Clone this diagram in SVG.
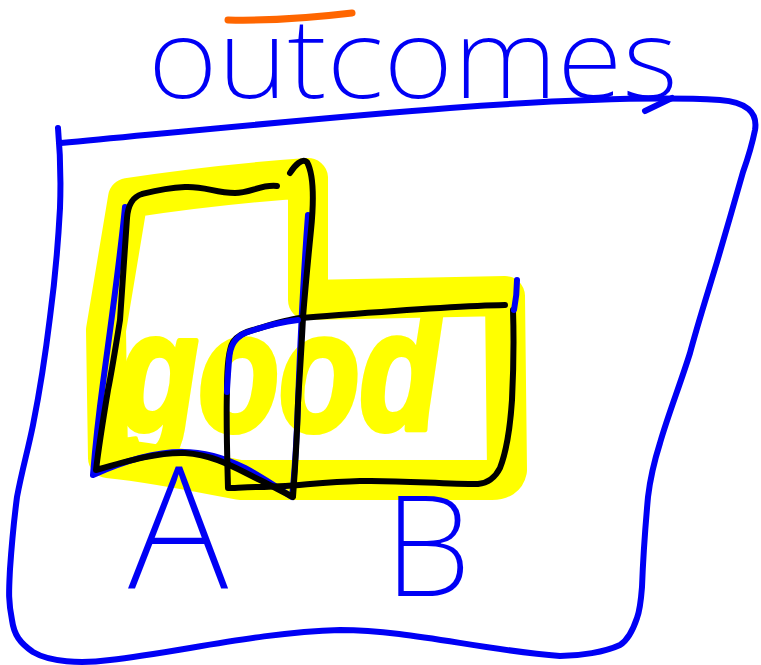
<svg xmlns="http://www.w3.org/2000/svg" width="761" height="665" viewBox="0 0 761 665">
  <style>
    .ink-blue { fill: none; stroke: #0000f5; stroke-width: 6; stroke-linecap: round; stroke-linejoin: round; }
    .ink-black { fill: none; stroke: #000; stroke-width: 6; stroke-linecap: round; stroke-linejoin: round; }
    .ink-orange { fill: none; stroke: #ff6600; stroke-width: 7; stroke-linecap: round; }
    .marker { fill: none; stroke: #ffff00; stroke-width: 40; stroke-linecap: round; stroke-linejoin: round; }
    .hand { font-family: "Noto Sans", "Liberation Sans", sans-serif; font-weight: 200; fill: #0000f5; }
    .glow { font-family: "Liberation Sans", sans-serif; font-weight: bold; font-style: italic; fill: #ffff00; stroke: #ffff00; stroke-width: 6; stroke-linejoin: round; }
  </style>
  <rect width="761" height="665" fill="#fff"/>

  <!-- heading -->
  <g id="title">
    <path class="ink-orange" d="M 228 20 C 270 21, 310 18, 352 13"/>
    <text class="hand" x="148" y="98" font-size="110" textLength="530" lengthAdjust="spacingAndGlyphs">outcomes</text>
    <path class="ink-blue" d="M 645 111 L 672 98"/>
  </g>

  <!-- outer set -->
  <g id="universe">
    <path class="ink-blue" d="M 61 143 C 200 130, 330 117, 450 108 C 560 100, 650 96, 720 100 C 746 102, 758 112, 755 130 C 752 145, 748 158, 743 172 C 735 200, 725 235, 717 262 C 708 292, 698 323, 690 353 C 680 385, 668 415, 660 443 C 654 462, 650 480, 648 497 C 645 530, 643 560, 642 587 C 641 600, 640 610, 637 618 C 633 630, 628 640, 620 645 C 605 652, 580 656, 560 656 C 480 650, 410 630, 340 630 C 260 632, 180 652, 110 660 C 80 664, 50 662, 33 652 C 20 643, 14 635, 12 620 C 8 600, 9 590, 10 569 C 12 540, 14 520, 17 497 C 22 470, 28 450, 33 425 C 40 390, 46 350, 50 317 C 55 280, 58 245, 60 208 C 61 180, 60 150, 58 128"/>
  </g>

  <!-- highlighted region -->
  <g id="good">
    <path class="marker" d="M 128 198 C 180 190, 250 182, 308 178 L 308 300 L 505 296 L 507 470 Q 505 480 492 480 L 240 480 C 200 472, 150 462, 108 458 L 106 330 Z"/>
    <text class="glow" x="118" y="430" font-size="168" textLength="322" lengthAdjust="spacingAndGlyphs">good</text>
  </g>

  <!-- set A -->
  <g id="set-a">
    <path class="ink-blue" d="M 125 207 C 120 260, 110 330, 103 383 C 98 420, 95 450, 93 475 C 115 465, 150 452, 182 452 C 205 452, 225 458, 245 468 C 262 477, 278 488, 292 497 C 295 470, 297 430, 298 403 C 300 350, 303 280, 308 215"/>
    <path class="ink-black" d="M 277 186 C 262 184, 250 193, 235 193 C 215 193, 205 186, 185 187 C 165 188, 150 192, 142 194 C 132 197, 128 205, 127 218 C 124 260, 122 290, 120 320 C 116 345, 112 370, 108 390 C 103 420, 99 445, 96 470 C 130 460, 160 452, 185 453 C 215 455, 235 468, 260 480 C 272 486, 283 492, 293 497 C 295 470, 297 440, 298 403 C 300 370, 302 340, 303 317 C 306 280, 309 250, 311 230 C 314 200, 314 175, 307 162 C 302 158, 295 165, 290 173"/>
    <text class="hand" x="128" y="588" font-size="170">A</text>
  </g>

  <!-- set B -->
  <g id="set-b">
    <path class="ink-black" d="M 300 318 C 380 312, 450 306, 505 305 M 513 310 C 514 340, 513 380, 512 400 C 510 430, 507 450, 500 468 C 495 478, 488 483, 478 484 C 440 484, 400 480, 360 481 C 320 482, 290 487, 260 487 C 245 487, 235 488, 228 488 C 227 450, 226 420, 227 390 C 227 370, 228 350, 233 342 C 238 335, 245 332, 253 330 C 270 325, 285 320, 300 318"/>
    <path class="ink-blue" d="M 298 320 C 280 322, 262 327, 245 333 C 235 338, 230 345, 229 360 C 228 375, 227 385, 227 392"/>
    <path class="ink-blue" d="M 517 280 C 517 290, 516 300, 514 310"/>
    <text class="hand" x="384" y="596" font-size="140">B</text>
  </g>
</svg>
